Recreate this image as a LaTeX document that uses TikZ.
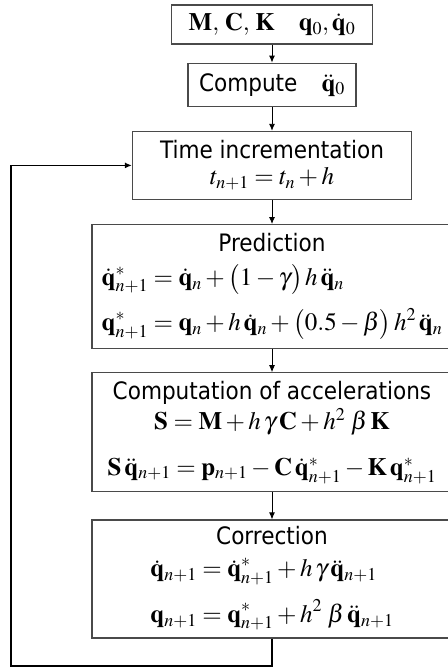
\documentclass[tikz,border=0pt]{standalone}
\usepackage{amsmath}
\usepackage{mathptmx}
\usepackage[no-math]{fontspec}
\setsansfont{DejaVu Sans Condensed}
\usepackage{tikz}
\usetikzlibrary{positioning,arrows.meta,calc}
\DeclareMathSizes{24}{25}{18}{14}
\definecolor{framegray}{HTML}{4A4A4A}
\newcommand{\bq}{\mathbf{q}}
\tikzset{
    every node/.style={font=\sffamily\fontsize{24}{30}\selectfont},
    stepbox/.style={draw=framegray,line width=1.2pt,align=center,inner sep=0pt},
    widebox/.style={stepbox,minimum width=360pt},
    link/.style={->,>={Latex[length=7pt,width=6pt]},line width=0.9pt},
    loopline/.style={link,line width=1.8pt}
}
\begin{document}
\begin{tikzpicture}[x=1pt,y=1pt,node distance=24pt]
    \useasboundingbox (0,0) rectangle (447,-669);
    \node[stepbox,minimum width=201pt,minimum height=39pt] (init) at (272,-24.5)
        {$\mathbf{M},\,\mathbf{C},\,\mathbf{K} \quad \bq_0, \dot{\bq}_0$};
    \node[stepbox,minimum width=168pt,minimum height=43pt,below=18pt of init] (acc0)
        {Compute\quad$\ddot{\bq}_0$};
    \node[stepbox,minimum width=279pt,minimum height=68pt,below=of acc0] (time)
        {Time incrementation\\[-4pt] $t_{n+1} = t_n + h$};
    \node[widebox,minimum height=124pt,below=of time] (pred)
        {Prediction\\[4pt]
        $\begin{aligned}[t]
        \dot{\bq}^*_{n+1} &= \dot{\bq}_n + \bigl(1-\gamma\bigr)\,h\,\ddot{\bq}_n\\[10pt]
        \bq^*_{n+1} &= \bq_n + h\,\dot{\bq}_n + \bigl(0.5-\beta\bigr)\,h^2\,\ddot{\bq}_n
        \end{aligned}$};
    \node[widebox,minimum height=119pt,below=23pt of pred] (accel)
        {Computation of accelerations\\[0pt]
        $\mathbf{S} = \mathbf{M} + h\,\gamma\,\mathbf{C} + h^2\;\beta\,\mathbf{K}$\\[16pt]
        $\mathbf{S}\,\ddot{\bq}_{n+1} = \mathbf{p}_{n+1} - \mathbf{C}\,\dot{\bq}^*_{n+1} - \mathbf{K}\,\bq^*_{n+1}$};
    \node[widebox,minimum height=118pt,below=27pt of accel] (corr)
        {Correction\\[2pt]
        $\begin{aligned}[t]
        \dot{\bq}_{n+1} &= \dot{\bq}^*_{n+1} + h\,\gamma\,\ddot{\bq}_{n+1}\\[10pt]
        \bq_{n+1} &= \bq^*_{n+1} + h^2\;\beta\,\ddot{\bq}_{n+1}
        \end{aligned}$};
    \coordinate (back) at (11,-666);
    % straight chain
    \draw[link] (init) -- (acc0);
    \draw[link] (acc0) -- (time);
    \draw[link] (time) -- (pred);
    \draw[link] (pred) -- (accel);
    \draw[link] (accel) -- (corr);
    % next time step
    \draw[loopline] (corr.south) |- (back) |- (time.west);
\end{tikzpicture}
\end{document}
